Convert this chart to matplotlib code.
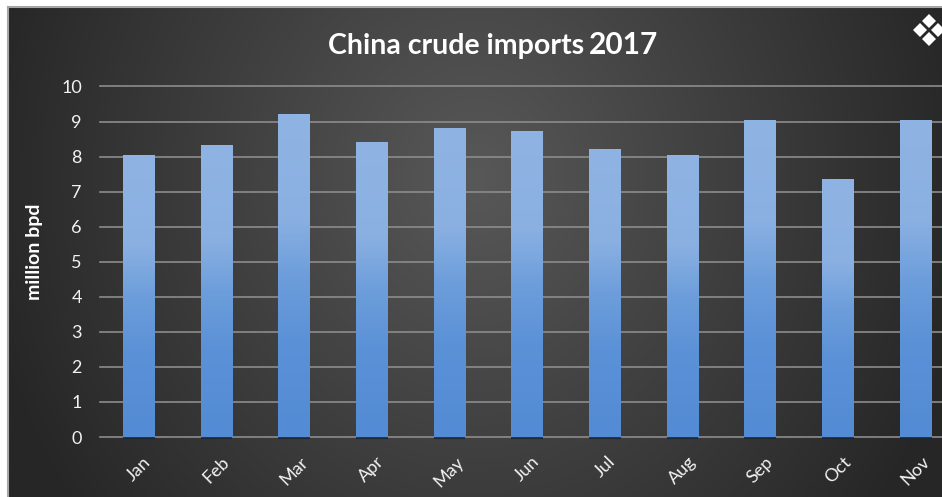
import numpy as np
import matplotlib
matplotlib.use("Agg")
import matplotlib.pyplot as plt
from matplotlib.colors import LinearSegmentedColormap

months = ['Jan', 'Feb', 'Mar', 'Apr', 'May', 'Jun', 'Jul', 'Aug', 'Sep', 'Oct', 'Nov']
imports = [8.03, 8.31, 9.2, 8.4, 8.8, 8.72, 8.2, 8.03, 9.03, 7.35, 9.03]
yticks = [0, 1, 2, 3, 4, 5, 6, 7, 8, 9, 10]

W, H = 942, 497
plt.rcParams['font.family'] = ['Lato', 'DejaVu Sans']

fig = plt.figure(figsize=(W / 100, H / 100), dpi=100, facecolor='white')

# dark panel with a wide glow a bit above the middle
bg = fig.add_axes([8 / W, 0, 1 - 8 / W, 1 - 7 / H])
yy, xx = np.mgrid[0:1:300j, 0:1:600j]
r = np.sqrt((0.925 * (xx - 0.5) / 0.5) ** 2 + (0.87 * (yy - 0.35)) ** 2)
bg_cmap = LinearSegmentedColormap.from_list('panel', ['#585858', '#262626'])
bg.imshow(r, cmap=bg_cmap, aspect='auto', extent=[0, 1, 0, 1], vmin=0, vmax=1)
bg.set_xticks([])
bg.set_yticks([])
for s in ['right', 'bottom']:
    bg.spines[s].set_visible(False)
for s in ['left', 'top']:
    bg.spines[s].set_color('#a6a6a6')
    bg.spines[s].set_linewidth(1.5)

# plot area runs off the right edge, so only part of the year shows
ax = fig.add_axes([100 / W, (H - 437) / H, (W - 100) / W, 350.5 / H])
ax.patch.set_alpha(0)
ax.set_yticks(yticks)
ax.set_xticks(range(len(months)))
ax.set_xticklabels(months, rotation=45, ha='center', va='top')
ax.tick_params(axis='both', length=0, colors='#f2f2f2', labelsize=13)
ax.tick_params(axis='x', pad=12)
ax.tick_params(axis='y', pad=13)
ax.grid(axis='y', color='#8c8c8c', linewidth=1.2, clip_on=False)
ax.set_axisbelow(True)
for s in ax.spines.values():
    s.set_visible(False)

bar_cmap = LinearSegmentedColormap.from_list(
    'bar', [(0, '#538bd4'), (0.3, '#5b91d7'), (0.5, '#6d9edb'), (0.68, '#8ab0e2'), (1, '#8fb4e3')])
grad = np.linspace(1, 0, 256).reshape(-1, 1)
bars = ax.bar(range(len(months)), imports, width=0.41, color='#5a90d6', zorder=3)
for b, v in zip(bars, imports):
    # soft shadow at the foot of the bar
    ax.plot([b.get_x(), b.get_x() + b.get_width()], [-0.02, -0.02], color='#1c2430',
            linewidth=1.6, alpha=0.8, zorder=2.9, clip_on=False, solid_capstyle='butt')
    ax.imshow(grad, cmap=bar_cmap, aspect='auto', zorder=4, vmin=0, vmax=1,
              extent=[b.get_x(), b.get_x() + b.get_width(), 0, v])
ax.set_xlim(-0.5, 10.34)
ax.set_ylim(0, 10)

ax.set_ylabel('million bpd', fontsize=14, fontweight='bold', color='white')
ax.yaxis.set_label_coords((43 - 100) / (W - 100), (437 - 252) / 350.5)

fig.text(328 / W, 1 - 46 / H, 'China crude imports', fontsize=20.5, fontweight='bold',
         color='white', ha='left', va='center')
fig.text(589 / W, 1 - 45 / H, '2017', fontsize=21.5, fontweight='bold',
         color='white', ha='left', va='center')

# small four-diamond icon in the corner
icon_x = [929, 920, 938, 929]
icon_y = [21, 30, 30, 39]
ax.plot([x / W for x in icon_x], [1 - y / H for y in icon_y], linestyle='none', marker='D',
        markersize=7.4, color='white', markeredgewidth=0, transform=fig.transFigure,
        clip_on=False, zorder=6)

fig.savefig('out.png', dpi=100, facecolor='white')
